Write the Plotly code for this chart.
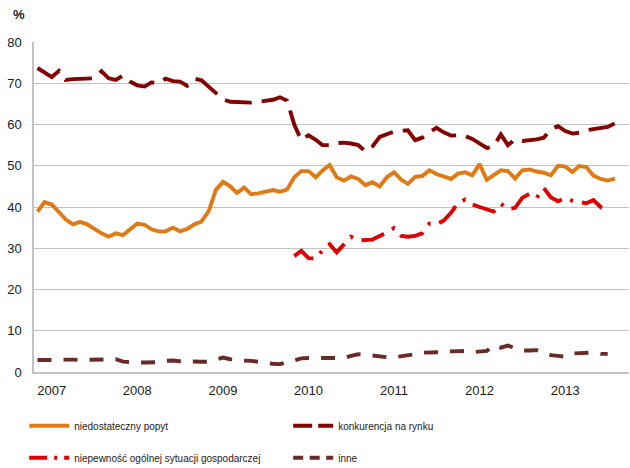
import pandas as pd
import plotly.graph_objects as go

# Monthly survey readings, Nov 2006 - Aug 2013 (share of firms, %)
months = pd.date_range("2006-11-01", periods=82, freq="MS")

popyt = [38.9, 41.2, 40.6, 38.6, 37.0, 35.8, 36.4, 35.8, 34.6, 33.6,
         32.8, 33.6, 33.2, 34.7, 36.0, 35.7, 34.6, 34.1, 34.1, 35.0,
         34.1, 34.7, 35.8, 36.5, 39.0, 44.1, 46.1, 45.0, 43.4, 44.7,
         43.1, 43.3, 43.8, 44.1, 43.7, 44.2, 47.2, 48.7, 48.7, 47.2,
         48.8, 50.2, 47.2, 46.4, 47.4, 46.8, 45.3, 46.0, 45.0, 47.2,
         48.4, 46.6, 45.6, 47.3, 47.5, 48.9, 48.0, 47.4, 46.8, 48.1,
         48.4, 47.7, 50.4, 46.6, 47.8, 48.9, 48.7, 46.9, 48.9, 49.1,
         48.6, 48.3, 47.7, 50.0, 49.8, 48.5, 49.9, 49.7, 47.6, 46.8,
         46.4, 46.9]

konkurencja = [73.7, 72.6, 71.5, 73.0, 70.8, 71.0, 71.0, 71.0, 71.2, 72.9,
               71.2, 70.8, 71.9, 70.4, 69.5, 69.2, 70.2, 70.0, 71.1, 70.5,
               70.4, 69.4, 71.1, 70.7, 69.2, 67.6, 66.1, 65.5, 65.4, 65.4,
               65.3, 65.5, 65.8, 66.0, 66.6, 65.8, 60.0, 56.2, 57.4, 56.3,
               55.0, 55.0, 55.5, 55.6, 55.4, 55.0, 53.5, 54.7, 57.0, 57.6,
               58.3, 58.5, 58.6, 56.2, 56.8, 58.1, 59.2, 58.1, 57.3, 57.4,
               57.2, 56.5, 55.5, 54.3, 54.7, 57.6, 55.0, 56.4, 56.0, 56.1,
               56.4, 56.8, 58.9, 59.6, 58.4, 57.8, 58.0, 58.6, 58.9, 59.2,
               59.4, 60.3]

# available from Nov 2009 to Jul 2013
niepewnosc_start = 36
niepewnosc = [28.1, 29.4, 27.6, 27.5, 29.5, 31.0, 29.0, 31.0, 32.8, 31.9,
              32.0, 32.1, 33.0, 33.8, 34.9, 33.0, 32.8, 33.0, 33.6, 36.0,
              35.8, 36.7, 38.6, 41.0, 41.8, 40.6, 40.0, 39.4, 38.9, 40.8,
              39.5, 39.8, 42.2, 43.2, 42.2, 44.6, 42.3, 41.4, 42.2, 41.5,
              41.2, 40.9, 41.7, 40.0, 39.2]

inne = [2.9, 2.8, 2.9, 3.0, 3.1, 3.0, 2.9, 2.9, 2.9, 2.9,
        3.0, 3.1, 2.5, 2.3, 2.3, 2.3, 2.3, 2.4, 2.7, 2.8,
        2.6, 2.5, 2.4, 2.5, 2.5, 2.9, 3.5, 3.1, 2.9, 2.8,
        2.7, 2.4, 2.1, 2.0, 1.9, 2.3, 2.9, 3.3, 3.4, 3.4,
        3.5, 3.5, 3.4, 3.4, 3.9, 4.3, 4.2, 4.0, 3.7, 3.6,
        3.6, 3.8, 4.1, 4.3, 4.7, 4.7, 4.6, 4.8, 5.0, 5.1,
        5.1, 4.8, 4.9, 5.1, 6.5, 5.9, 6.4, 5.9, 5.2, 5.2,
        5.3, 4.8, 4.1, 3.9, 3.7, 4.5, 4.6, 4.6, 4.7, 4.4,
        4.4]

years = ["2007", "2008", "2009", "2010", "2011", "2012", "2013"]

names = ["niedostateczny popyt", "konkurencja na rynku",
         "niepewność ogólnej sytuacji gospodarczej", "inne"]

TEXT = "#1a1a1a"
GRID = "#c3c3c3"
LW = 3.9

# line style per series: (colour, dash on the chart, dash in the legend key, legend)
styles = [
    ("#DF7A14", "solid", "solid", "legend"),
    ("#850000", "27px,10px", "19px,6px", "legend"),
    ("#E00000", "24px,9px,3px,9px", "18px,7px,3px,7px", "legend2"),
    ("#6A2A28", "14px,12px", "10px,6.5px", "legend2"),
]

series = [
    (months[:len(popyt)], popyt),
    (months[:len(konkurencja)], konkurencja),
    (months[niepewnosc_start:niepewnosc_start + len(niepewnosc)], niepewnosc),
    (months[:len(inne)], inne),
]

fig = go.Figure()

for (xs, ys), name, (color, dash, _, _) in zip(series, names, styles):
    fig.add_trace(go.Scatter(
        x=xs, y=ys, name=name, mode="lines", showlegend=False,
        line=dict(color=color, width=LW, dash=dash)))

# legend keys use a shorter dash rhythm than the plotted lines
for name, (color, _, key_dash, legend_id) in zip(names, styles):
    fig.add_trace(go.Scatter(
        x=[None], y=[None], name=name, mode="lines", legend=legend_id,
        line=dict(color=color, width=LW, dash=key_dash), hoverinfo="skip"))

legend_common = dict(
    orientation="h", xanchor="left", yanchor="middle",
    x=-0.0165, entrywidth=209, entrywidthmode="pixels", itemwidth=40,
    font=dict(family="Liberation Sans, Arial", size=10, color=TEXT),
    bgcolor="rgba(0,0,0,0)", traceorder="normal",
)

fig.update_layout(
    width=630, height=468,
    margin=dict(l=34, r=1, t=42, b=96, autoexpand=False),
    paper_bgcolor="white", plot_bgcolor="white",
    font=dict(family="Liberation Sans, Arial", size=13, color=TEXT),
    showlegend=True,
    legend=dict(legend_common, y=-0.163),
    legend2=dict(legend_common, y=-0.260),
    xaxis=dict(
        type="date", range=["2006-10-17", "2013-09-30"],
        tickvals=[f"{y}-01-01" for y in years], ticktext=years,
        showgrid=False, zeroline=False, showline=True, linecolor=GRID, linewidth=1.5,
        ticks="", tickfont=dict(size=13, color=TEXT), ticklabelstandoff=6,
    ),
    yaxis=dict(
        range=[0, 80], dtick=10, tickmode="linear", tick0=0,
        showgrid=True, gridcolor=GRID, gridwidth=1.3, zeroline=False,
        showline=True, linecolor=GRID, linewidth=1.5,
        ticks="", tickfont=dict(size=13, color=TEXT), ticklabelstandoff=8,
    ),
    annotations=[dict(
        text="<b>%</b>", xref="paper", yref="paper", x=-0.038, y=1.082,
        xanchor="left", yanchor="middle", showarrow=False,
        font=dict(size=13, color=TEXT),
    )],
)

fig.write_html("out.html")
